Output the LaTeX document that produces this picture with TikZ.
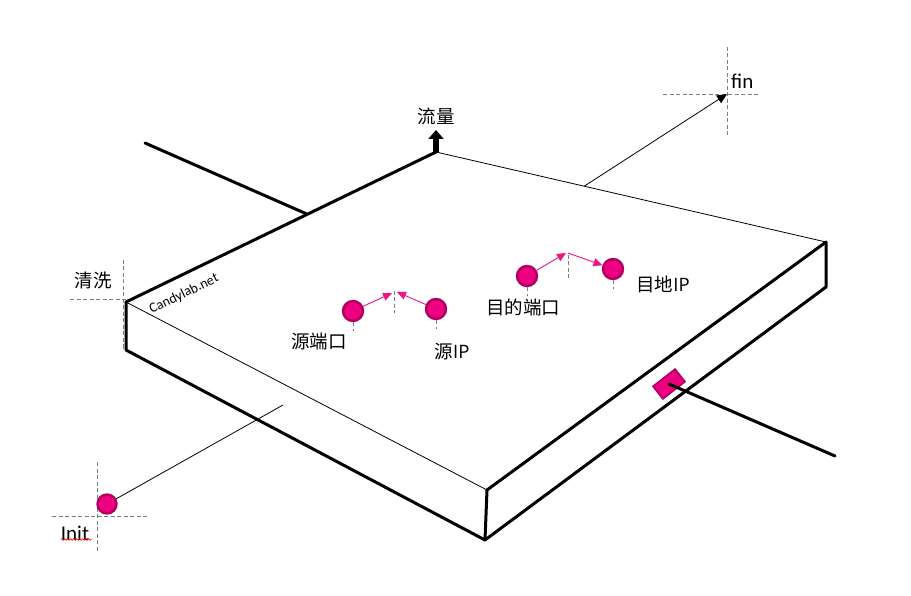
\documentclass[tikz,border=0pt]{standalone}
\usepackage{fontspec}
\setmainfont{Carlito}
\newfontfamily\cjk{Noto Sans CJK SC}
\usepackage{xcolor}
\definecolor{DotPink}{RGB}{236,0,128}
\definecolor{DotRim}{RGB}{175,0,95}
\definecolor{ArrowPink}{RGB}{238,20,130}
\definecolor{GuideGray}{RGB}{125,125,125}
\usetikzlibrary{arrows.meta,positioning,calc,decorations.pathmorphing}

\begin{document}
\begin{tikzpicture}[x=1pt,y=-1pt,
  edge/.style={line width=3pt,line cap=round,line join=round},
  fineline/.style={line width=0.8pt},
  guide/.style={GuideGray,line width=0.7pt,dash pattern=on 4pt off 2.5pt},
  dot/.style={circle,fill=DotPink,draw=DotRim,line width=2.4pt,minimum size=20pt,inner sep=0pt},
  parr/.style={-{Triangle[length=9pt,width=8pt]},ArrowPink,line width=0.9pt},
  lbl/.style={font=\cjk\fontsize{18.5}{20}\selectfont,inner sep=0pt},
  tag/.style={font=\fontsize{21}{24}\selectfont,inner sep=0pt}
]
  \useasboundingbox (0,0) rectangle (911,596);
  \coordinate (L)  at (126,302);
  \coordinate (T)  at (436,152);
  \coordinate (R)  at (826,242);
  \coordinate (F)  at (487,490);
  \coordinate (Lb) at (126,350);
  \coordinate (Fb) at (485,540);
  \coordinate (Rb) at (826,287);

  \draw[fineline](T)--(R); \draw[fineline](L)--(F);
  \draw[edge](L)--(T); \draw[edge](R)--(F); \draw[edge](F)--(Fb);
  \draw[edge](L)--(Lb)--(Fb)--(Rb)--(R);

  \coordinate (stick) at (145,143);
  \draw[edge](stick)--($(L)!0.585!(T)$);

  \draw[-{Triangle[length=9pt,width=15pt]},line width=6pt](T)--++(0,-22) coordinate (flowtip);
  \node[lbl,above=5pt of flowtip] (flow) {流量};

  \coordinate (finpt) at (727,94);
  \draw[guide](663,94)--(760,94); \draw[guide](727,47)--(727,137);
  \draw[fineline,-{Triangle[length=10pt,width=9pt]}]($(T)!0.38!(R)$)--(finpt);
  \node[tag,anchor=south west] (fin) at (731,89) {fin};

  \draw[guide](70,299)--(128,299); \draw[guide](123,260)--(123,350);
  \node[lbl] (wash) at (93,280) {清洗};
  \node[rotate=26,font=\fontsize{14}{16}\selectfont,inner sep=0pt] (brand) at (184,294) {Candylab.net};

  \draw[guide](52,516)--(148,516); \draw[guide](97,462)--(97,552);
  \node[dot,minimum size=19pt] (initdot) at (107,504) {};
  \coordinate (initend) at (283,405);
  \draw[fineline](initdot)--(initend);
  \node[tag] (init) at (75,533) {Init};
  \draw[red,line width=0.6pt,decorate,decoration={snake,amplitude=0.9pt,segment length=3pt}](init.south west)++(0,-1)--++(31,0);

  \node[dot] (sport) at (353,311) {};
  \node[dot] (sip)   at (436,309) {};
  \coordinate (speak) at (394,291);
  \draw[guide](speak)--++(0,22);
  \draw[guide](sport.south)--++(0,9); \draw[guide](sip.south)--++(0,9);
  \draw[parr](sport)--($(speak)+(-2,2)$);
  \draw[parr](sip)--($(speak)+(3,1)$);
  \node[lbl] (sportlbl) at (319,342) {源端口};
  \node[lbl] (siplbl)   at (452,352) {源{\fontspec{Open Sans}IP}};

  \node[dot] (dport) at (527,276) {};
  \node[dot] (dip)   at (613,269) {};
  \coordinate (dpeak) at (567,253);
  \draw[guide]($(dpeak)+(1,2)$)--++(0,23);
  \draw[guide](dport.south)--++(0,9); \draw[guide](dip.south)--++(0,9);
  \draw[parr](dport)--($(dpeak)+(-1,0)$);
  \draw[parr]($(dpeak)+(1,0)$)--(dip);
  \node[lbl] (dportlbl) at (523,307) {目的端口};
  \node[lbl] (diplbl)   at (663,284) {目地{\fontspec{Open Sans}IP}};

  \node[rectangle,rotate=38,fill=DotPink,draw=DotRim,line width=1.6pt,minimum width=28pt,minimum height=16pt,inner sep=0pt] (plug) at (669,384) {};
  \coordinate (cable) at (835,456);
  \draw[edge](plug.center)--(cable);
\end{tikzpicture}
\end{document}
